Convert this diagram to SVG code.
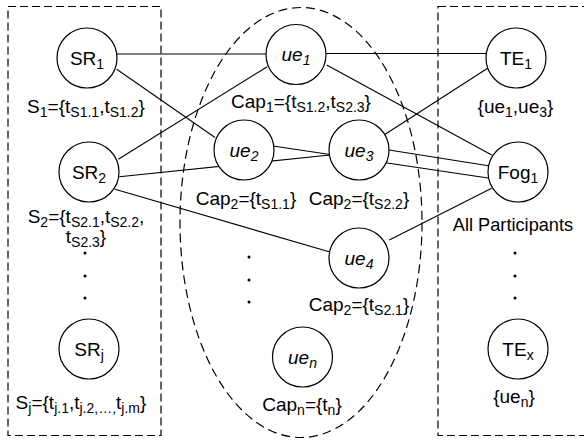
<svg xmlns="http://www.w3.org/2000/svg" width="584" height="440" viewBox="0 0 584 440">
<style>
text{font-family:"Liberation Sans",Arial,sans-serif;font-size:19px;fill:#000;text-anchor:middle}
.s{font-size:14px}
.it{font-style:italic}
.node{fill:#fff;stroke:#000;stroke-width:1.2}
.box{fill:none;stroke:#000;stroke-width:1.2;stroke-dasharray:8,4}
.edge{stroke:#000;stroke-width:1.1;fill:none}
.dot{fill:#000}
</style>
<rect class="box" x="8" y="6.5" width="153" height="429"/>
<rect class="box" x="438" y="6.5" width="160" height="429"/>
<ellipse class="box" cx="301" cy="222.5" rx="121" ry="215" style="stroke-dasharray:9,5"/>
<g id="connectors">
<line class="edge" x1="117" y1="54" x2="267" y2="54"/>
<line class="edge" x1="116.7" y1="69.3" x2="215" y2="137.5"/>
<line class="edge" x1="118.3" y1="159.3" x2="267.3" y2="66.7"/>
<line class="edge" x1="119.3" y1="176.7" x2="330" y2="155"/>
<line class="edge" x1="115" y1="189.3" x2="330" y2="252"/>
<line class="edge" x1="326" y1="53.5" x2="487" y2="53.5"/>
<line class="edge" x1="326.7" y1="65" x2="491.7" y2="155"/>
<line class="edge" x1="273" y1="146" x2="488" y2="178"/>
<line class="edge" x1="389" y1="150" x2="490" y2="166"/>
<line class="edge" x1="384" y1="135" x2="488" y2="68"/>
<line class="edge" x1="389.3" y1="240" x2="491.7" y2="188.3"/>
</g>
<g id="SR1"><circle class="node" cx="87" cy="58" r="30"/><text x="87" y="64.5">SR<tspan class="s" dy="4">1</tspan></text><text x="86" y="113">S<tspan class="s" dy="4">1</tspan><tspan dy="-4">={t</tspan><tspan class="s" dy="4">S1.1</tspan><tspan dy="-4">,t</tspan><tspan class="s" dy="4">S1.2</tspan><tspan dy="-4">}</tspan></text></g>
<g id="SR2"><circle class="node" cx="89" cy="172" r="30"/><text x="89" y="178.5">SR<tspan class="s" dy="4">2</tspan></text><text x="86" y="222.5">S<tspan class="s" dy="4">2</tspan><tspan dy="-4">={t</tspan><tspan class="s" dy="4">S2.1</tspan><tspan dy="-4">,t</tspan><tspan class="s" dy="4">S2.2</tspan><tspan dy="-4">,</tspan></text><text x="86" y="242.5">t<tspan class="s" dy="4">S2.3</tspan><tspan dy="-4">}</tspan></text></g>
<g id="SRj"><circle class="node" cx="89" cy="349" r="30"/><text x="89" y="355.5">SR<tspan class="s" dy="4">j</tspan></text><text x="81" y="409">S<tspan class="s" dy="4">j</tspan><tspan dy="-4">={t</tspan><tspan class="s" dy="4">j.1</tspan><tspan dy="-4">,t</tspan><tspan class="s" dy="4">j.2,…,</tspan><tspan dy="-4">t</tspan><tspan class="s" dy="4">j.m</tspan><tspan dy="-4">}</tspan></text></g>
<g id="dots-left"><circle class="dot" cx="85" cy="253" r="1.5"/><circle class="dot" cx="85" cy="276" r="1.5"/><circle class="dot" cx="85" cy="298" r="1.5"/></g>
<g id="ue1"><circle class="node" cx="296" cy="54.5" r="30"/><text class="it" x="296" y="61">ue<tspan class="s" dy="4">1</tspan></text><text x="301" y="108">Cap<tspan class="s" dy="4">1</tspan><tspan dy="-4">={t</tspan><tspan class="s" dy="4">S1.2</tspan><tspan dy="-4">,t</tspan><tspan class="s" dy="4">S2.3</tspan><tspan dy="-4">}</tspan></text></g>
<g id="ue2"><circle class="node" cx="244" cy="150" r="30"/><text class="it" x="244" y="156.5">ue<tspan class="s" dy="4">2</tspan></text><text x="246" y="204.5">Cap<tspan class="s" dy="4">2</tspan><tspan dy="-4">={t</tspan><tspan class="s" dy="4">S1.1</tspan><tspan dy="-4">}</tspan></text></g>
<g id="ue3"><circle class="node" cx="359" cy="150" r="30"/><text class="it" x="359" y="156.5">ue<tspan class="s" dy="4">3</tspan></text><text x="359" y="204.5">Cap<tspan class="s" dy="4">2</tspan><tspan dy="-4">={t</tspan><tspan class="s" dy="4">S2.2</tspan><tspan dy="-4">}</tspan></text></g>
<g id="ue4"><circle class="node" cx="359" cy="258" r="30"/><text class="it" x="359" y="264.5">ue<tspan class="s" dy="4">4</tspan></text><text x="359" y="311">Cap<tspan class="s" dy="4">2</tspan><tspan dy="-4">={t</tspan><tspan class="s" dy="4">S2.1</tspan><tspan dy="-4">}</tspan></text></g>
<g id="uen"><circle class="node" cx="302.5" cy="357" r="30"/><text class="it" x="302.5" y="363.5">ue<tspan class="s" dy="4">n</tspan></text><text x="302" y="411">Cap<tspan class="s" dy="4">n</tspan><tspan dy="-4">={t</tspan><tspan class="s" dy="4">n</tspan><tspan dy="-4">}</tspan></text></g>
<g id="dots-mid"><circle class="dot" cx="249" cy="257" r="1.5"/><circle class="dot" cx="249" cy="280" r="1.5"/><circle class="dot" cx="249" cy="302" r="1.5"/></g>
<g id="TE1"><circle class="node" cx="516" cy="58" r="30"/><text x="516" y="64.5">TE<tspan class="s" dy="4">1</tspan></text><text x="515.5" y="113">{ue<tspan class="s" dy="4">1</tspan><tspan dy="-4">,ue</tspan><tspan class="s" dy="4">3</tspan><tspan dy="-4">}</tspan></text></g>
<g id="Fog1"><circle class="node" cx="518" cy="172" r="30"/><text x="518" y="178.5">Fog<tspan class="s" dy="4">1</tspan></text><text x="513" y="231" style="font-size:18.2px">All Participants</text></g>
<g id="dots-right"><circle class="dot" cx="515" cy="253" r="1.5"/><circle class="dot" cx="515" cy="276" r="1.5"/><circle class="dot" cx="515" cy="298" r="1.5"/></g>
<g id="TEx"><circle class="node" cx="518" cy="349" r="30"/><text x="518" y="355.5">TE<tspan class="s" dy="4">x</tspan></text><text x="514" y="403">{ue<tspan class="s" dy="4">n</tspan><tspan dy="-4">}</tspan></text></g>
</svg>
